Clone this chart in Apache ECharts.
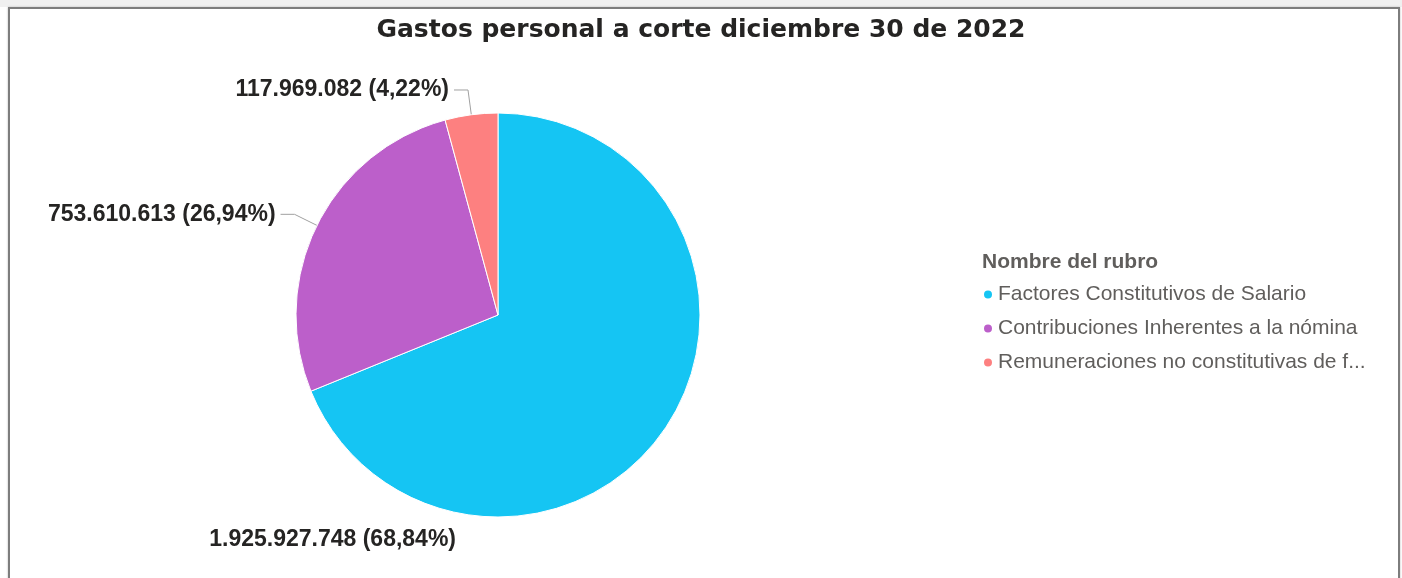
<!DOCTYPE html>
<html>
<head>
<meta charset="utf-8">
<script src="https://cdn.jsdelivr.net/npm/echarts@6/dist/echarts.min.js"></script>
<style>
  html, body { margin: 0; padding: 0; background: #fff; }
  #band { position: absolute; left: 0; top: 0; width: 1402px; height: 7px; background: #f0f0f0; }
  #frame { position: absolute; left: 8px; top: 7px; width: 1388px; height: 590px; border: 2px solid #7d7d7d; pointer-events: none; box-shadow: 0 0 2px #bbb; }
  #pie { position: absolute; left: 0; top: 0; width: 1402px; height: 578px; }
</style>
</head>
<body>
<div id="band"></div>
<div id="pie"></div>
<div id="frame"></div>
<script type="text/javascript">
var rubros = [
  "Factores Constitutivos de Salario",
  "Contribuciones Inherentes a la nómina",
  "Remuneraciones no constitutivas de factor salarial"
];
var valores = [1925927748, 753610613, 117969082];
var colores = ["#15C5F3", "#BC5FCA", "#FD8080"];

// 1234567 -> 1.234.567
function miles(n) {
  return String(n).replace(/\B(?=(\d{3})+(?!\d))/g, ".");
}

var myChart = echarts.init(document.getElementById("pie"));
var datos = [];
for (var i = 0; i < rubros.length; i++) {
  datos.push({ name: rubros[i], value: valores[i], itemStyle: { color: colores[i] } });
}
// la etiqueta grande va abajo, como en el original
datos[0].labelLine = { show: false };

var option = {
  animation: false,
  title: [
    {
      text: "Gastos personal a corte diciembre 30 de 2022",
      left: "center",
      top: 13,
      textStyle: { fontFamily: "DejaVu Sans", fontSize: 25, fontWeight: "bold", color: "#252423" }
    },
    {
      text: "Nombre del rubro",
      left: 977,
      top: 247,
      textStyle: { fontFamily: "Liberation Sans", fontSize: 21, fontWeight: "bold", color: "#605e5c" }
    }
  ],
  legend: {
    orient: "vertical",
    left: 977,
    top: 279,
    itemGap: 13,
    icon: "circle",
    itemWidth: 10,
    itemHeight: 10,
    data: rubros,
    textStyle: {
      fontFamily: "Liberation Sans",
      fontSize: 21,
      color: "#605e5c",
      width: 380,
      overflow: "truncate",
      ellipsis: "..."
    }
  },
  series: [
    {
      name: "Nombre del rubro",
      type: "pie",
      center: [498, 315],
      radius: 202,
      startAngle: 90,
      clockwise: true,
      itemStyle: { borderColor: "#fff", borderWidth: 1 },
      label: {
        show: true,
        fontFamily: "Liberation Sans",
        fontSize: 23,
        fontWeight: "bold",
        color: "#252423",
        formatter: function (p) {
          return miles(p.value) + " (" + p.percent.toFixed(2).replace(".", ",") + "%)";
        }
      },
      labelLine: {
        show: true,
        length: 25,
        length2: 14,
        lineStyle: { color: "#a0a0a0", width: 1 }
      },
      labelLayout: function (params) {
        if (params.dataIndex === 0) {
          return { x: 456, y: 540, align: "right", verticalAlign: "middle" };
        }
      },
      data: datos
    }
  ]
};
myChart.setOption(option);
</script>
</body>
</html>
